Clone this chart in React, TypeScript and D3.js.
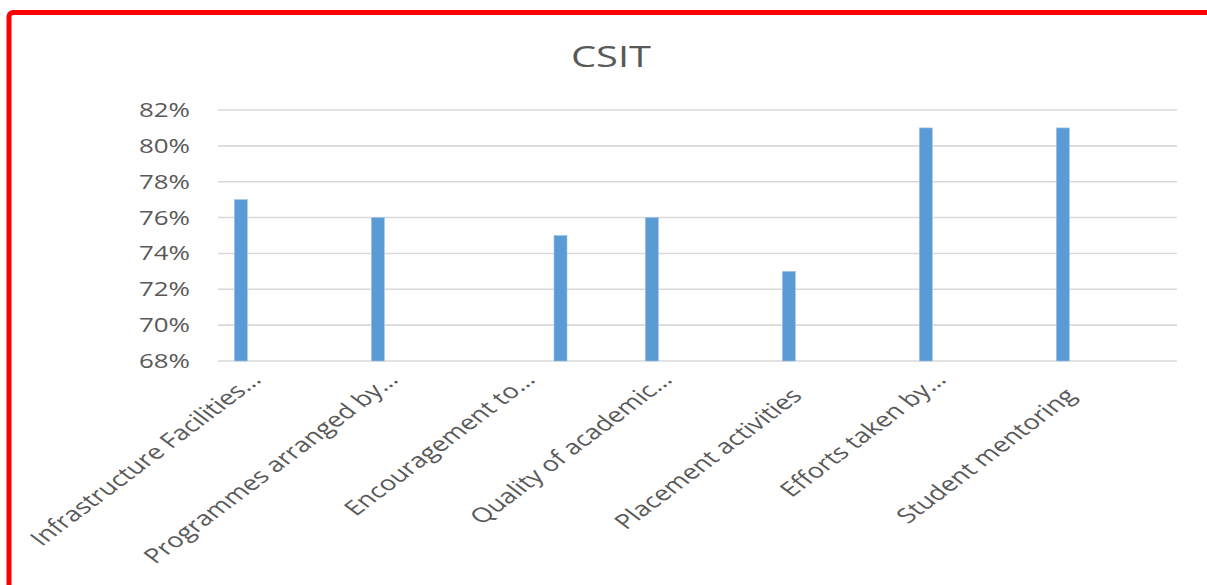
import * as d3 from "d3";
import { useEffect, useRef } from "react";

const title = "CSIT";
const categories = [
  "Infrastructure Facilities…",
  "Programmes arranged by…",
  "Encouragement to…",
  "Quality of academic…",
  "Placement activities",
  "Efforts taken by…",
  "Student mentoring",
];
const seriesNames = ["Series1", "Series2", "Series3"];
const series1 = [0.77, 0.76, null, 0.76, 0.73, 0.81, 0.81];
const series2 = [null, null, 0.75, null, null, null, null];
const series3 = [null, null, null, null, null, null, null];
const yTicks = [0.68, 0.7, 0.72, 0.74, 0.76, 0.78, 0.8, 0.82];

const width = 1207;
const height = 585;
const plotLeft = 218;
const plotRight = 1177;
const plotTop = 110;
const plotBottom = 361;
const stretch = 1.33;
const textColor = "#595959";
const font = "'Open Sans', sans-serif";

export default function App() {
  const ref = useRef<SVGSVGElement>(null);

  useEffect(() => {
    const svg = d3.select(ref.current);
    svg.selectAll("*").remove();

    const x0 = d3.scaleBand(categories, [plotLeft, plotRight]);
    const x1 = d3.scaleBand(seriesNames, [0, x0.bandwidth()]);
    const y = d3.scaleLinear([0.68, 0.82], [plotBottom, plotTop]);
    const barW = 13;

    svg
      .append("rect")
      .attr("width", width)
      .attr("height", height)
      .attr("fill", "#fff");

    // red frame
    svg
      .append("rect")
      .attr("x", 9)
      .attr("y", 12.5)
      .attr("width", 1260)
      .attr("height", 700)
      .attr("rx", 4)
      .attr("fill", "none")
      .attr("stroke", "#ff0000")
      .attr("stroke-width", 5);

    // title
    svg
      .append("text")
      .attr("transform", `translate(611, 67) scale(${stretch},1)`)
      .attr("text-anchor", "middle")
      .attr("font-family", font)
      .attr("font-size", 30)
      .attr("fill", textColor)
      .text(title);

    // gridlines
    svg
      .append("g")
      .selectAll("line")
      .data(yTicks)
      .join("line")
      .attr("x1", plotLeft)
      .attr("x2", plotRight)
      .attr("y1", (d) => y(d))
      .attr("y2", (d) => y(d))
      .attr("stroke", "#d9d9d9")
      .attr("stroke-width", 1.6);

    // y tick labels
    svg
      .append("g")
      .selectAll("text")
      .data(yTicks)
      .join("text")
      .attr("transform", (d) => `translate(190, ${y(d)}) scale(${stretch},1)`)
      .attr("text-anchor", "end")
      .attr("dy", "0.36em")
      .attr("font-family", font)
      .attr("font-size", 19.5)
      .attr("fill", textColor)
      .text((d) => d3.format(".0%")(d));

    // bars
    const allSeries = [series1, series2, series3];
    const bars = allSeries.flatMap((vals, si) =>
      vals.map((v, ci) => ({ s: seriesNames[si], c: categories[ci], v }))
    );
    svg
      .append("g")
      .selectAll("rect")
      .data(bars.filter((b) => b.v != null))
      .join("rect")
      .attr("x", (d) => x0(d.c)! + x1(d.s)! + x1.bandwidth() / 2 - barW / 2)
      .attr("y", (d) => y(d.v as number))
      .attr("width", barW)
      .attr("height", (d) => plotBottom - y(d.v as number))
      .attr("fill", "#5b9bd5")
      .attr("stroke", "#9dc3e6")
      .attr("stroke-width", 0.6);

    // category labels
    svg
      .append("g")
      .selectAll("text")
      .data(categories)
      .join("text")
      .attr("transform", (d) => {
        const cx = x0(d)! + x0.bandwidth() / 2;
        const cut = d.endsWith("…");
        const ex = cut ? cx - 24 : cx - 31;
        const ey = cut ? 381 : 397;
        return `translate(${ex}, ${ey}) scale(${stretch},1) rotate(-45)`;
      })
      .attr("text-anchor", "end")
      .attr("font-family", font)
      .attr("font-size", 20.5)
      .attr("fill", textColor)
      .text((d) => d);
  }, []);

  return (
    <svg
      ref={ref}
      width={width}
      height={height}
      style={{ position: "absolute", left: 0, top: 0, display: "block" }}
    />
  );
}
